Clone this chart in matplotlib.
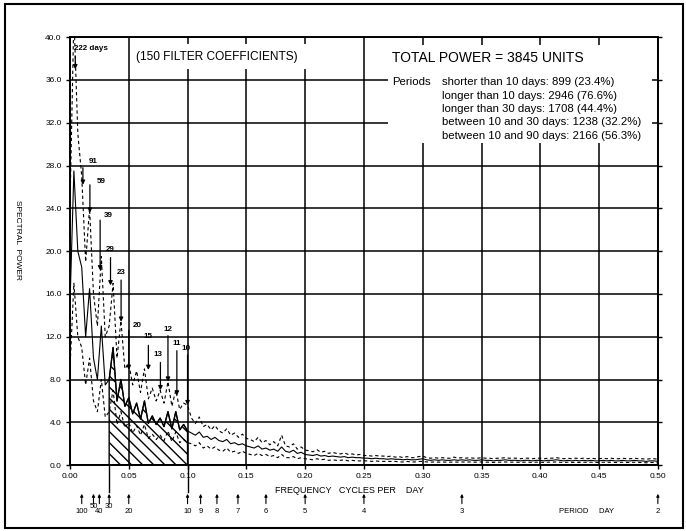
import matplotlib
matplotlib.use('Agg')
import matplotlib.pyplot as plt
from matplotlib.patches import Rectangle
import numpy as np

plt.rcParams['font.family'] = ['Liberation Sans', 'DejaVu Sans']
plt.rcParams['hatch.linewidth'] = 1.0

# spectral estimate at steps of 1/300 cycles per day (150 filter coefficients)
freq_step = 1 / 300.0
power = [15, 27.5, 20, 18.5, 12, 16.5, 10, 8, 13, 7.5, 8,
         11, 6, 8, 5.5, 6.3, 4.8, 5.8, 4.3, 6.0, 3.9, 4.6, 3.8, 4.4, 3.6, 5.0, 3.4, 5.0, 3.3, 3.8, 3.2,
         3.0, 2.8, 3.1, 2.6, 2.7, 2.4, 2.6, 2.3, 2.2, 2.4, 2.0, 2.1, 1.9, 2.0, 1.8,
         1.7, 1.6, 1.8, 1.5, 1.6, 1.4, 1.5, 1.3, 1.7, 1.3, 1.2, 1.4, 1.1, 1.2, 1.0,
         0.95, 0.9, 1.0, 0.85, 0.9, 0.8, 0.85, 0.8, 0.75, 0.8, 0.7, 0.75, 0.7, 0.7, 0.65,
         0.65, 0.6, 0.65, 0.6, 0.6, 0.55, 0.6, 0.55, 0.55, 0.5, 0.55, 0.5, 0.5, 0.55, 0.6,
         0.5, 0.45, 0.5, 0.45, 0.5, 0.45, 0.45, 0.5, 0.45, 0.5,
         0.45, 0.5, 0.45, 0.45, 0.5, 0.45, 0.45, 0.4, 0.45, 0.45,
         0.5, 0.45, 0.45, 0.45, 0.4, 0.45, 0.45, 0.4, 0.45, 0.45,
         0.4, 0.45, 0.45, 0.5, 0.45, 0.4, 0.45, 0.4, 0.45, 0.4,
         0.45, 0.4, 0.45, 0.4, 0.4, 0.45, 0.4, 0.45, 0.4, 0.4,
         0.45, 0.4, 0.4, 0.45, 0.4, 0.4, 0.35, 0.4, 0.4, 0.35]
upper = [24, 42, 31, 27, 19, 24, 16, 13, 19.5, 12, 13,
         17, 10, 13.5, 9, 9.5, 7.5, 8.8, 6.8, 9, 6.2, 7.2, 6.0, 7.0, 5.8, 7.8, 5.5, 7.0, 5.2, 5.8, 5.6,
         4.4, 3.9, 4.5, 3.6, 3.8, 3.3, 3.7, 3.2, 3.0, 3.4, 2.8, 3.0, 2.6, 2.9, 2.5,
         2.4, 2.2, 2.6, 2.1, 2.3, 1.9, 2.2, 1.8, 2.8, 1.8, 1.7, 2.0, 1.5, 1.7, 1.4,
         1.35, 1.25, 1.45, 1.2, 1.3, 1.1, 1.2, 1.1, 1.05, 1.15, 1.0, 1.05, 0.95, 1.0, 0.9,
         0.9, 0.85, 0.9, 0.85, 0.85, 0.8, 0.85, 0.75, 0.8, 0.7, 0.8, 0.7, 0.7, 0.8, 0.85,
         0.7, 0.65, 0.7, 0.65, 0.7, 0.65, 0.65, 0.75, 0.65, 0.7,
         0.65, 0.7, 0.65, 0.65, 0.7, 0.65, 0.65, 0.6, 0.65, 0.65,
         0.7, 0.65, 0.65, 0.65, 0.6, 0.65, 0.65, 0.6, 0.65, 0.65,
         0.6, 0.65, 0.65, 0.7, 0.65, 0.6, 0.65, 0.6, 0.65, 0.6,
         0.65, 0.6, 0.65, 0.6, 0.6, 0.65, 0.6, 0.65, 0.6, 0.6,
         0.65, 0.6, 0.6, 0.65, 0.6, 0.6, 0.55, 0.6, 0.6, 0.55]
lower = [9, 17, 12, 11, 7.5, 10, 6, 5, 8, 4.5, 5,
         7, 3.8, 5, 3.5, 4, 3.0, 3.7, 2.8, 3.8, 2.5, 2.9, 2.4, 2.8, 2.3, 3.2, 2.2, 3.1, 2.1, 2.4, 2.1,
         2.0, 1.8, 2.1, 1.6, 1.8, 1.5, 1.7, 1.4, 1.3, 1.6, 1.2, 1.3, 1.1, 1.3, 1.1,
         1.0, 0.9, 1.1, 0.9, 1.0, 0.8, 0.9, 0.7, 1.0, 0.7, 0.7, 0.8, 0.6, 0.7, 0.6,
         0.55, 0.5, 0.6, 0.5, 0.55, 0.45, 0.5, 0.45, 0.45, 0.5, 0.4, 0.45, 0.4, 0.4, 0.4,
         0.4, 0.35, 0.4, 0.35, 0.35, 0.35, 0.35, 0.35, 0.3, 0.3, 0.35, 0.3, 0.3, 0.35, 0.35,
         0.3, 0.28, 0.3, 0.28, 0.3, 0.28, 0.28, 0.3, 0.28, 0.3,
         0.28, 0.3, 0.28, 0.28, 0.3, 0.28, 0.28, 0.25, 0.28, 0.28,
         0.3, 0.28, 0.28, 0.28, 0.25, 0.28, 0.28, 0.25, 0.28, 0.28,
         0.25, 0.28, 0.28, 0.3, 0.28, 0.25, 0.28, 0.25, 0.28, 0.25,
         0.28, 0.25, 0.28, 0.25, 0.25, 0.28, 0.25, 0.28, 0.25, 0.25,
         0.28, 0.25, 0.25, 0.28, 0.25, 0.25, 0.22, 0.25, 0.25, 0.22]

# peaks marked with arrows (period in days, arrow start, arrow tip)
peak_periods = [222, 91, 59, 39, 29, 23, 20, 15, 13, 12, 11, 10]
peak_labels = ['222 days', '91', '59', '39', '29', '23', '20', '15', '13', '12', '11', '10']
arrow_start = [38.2, 27.8, 26.2, 22.9, 19.4, 17.3, 12.6, 11.2, 9.6, 12.1, 10.7, 10.3]
arrow_tip = [37.0, 26.2, 23.6, 18.2, 16.8, 13.4, 8.9, 8.9, 7.0, 7.8, 6.5, 5.6]

period_ticks = [100, 50, 40, 30, 20, 10, 9, 8, 7, 6, 5, 4, 3, 2]

power_lines = ['shorter than 10 days: 899 (23.4%)',
               'longer than 10 days: 2946 (76.6%)',
               'longer than 30 days: 1708 (44.4%)',
               'between 10 and 30 days: 1238 (32.2%)',
               'between 10 and 90 days: 2166 (56.3%)']

power = np.array(power)
upper = np.array(upper)
lower = np.array(lower)
freq = np.arange(len(power)) * freq_step

fig = plt.figure(figsize=(6.86, 5.31), dpi=100)
ax = fig.add_axes([0.102, 0.124, 0.857, 0.806])
ax.set_axisbelow(True)

ax.plot(freq, power, color='black', lw=0.8, zorder=3)
ax.plot(freq, upper, color='black', lw=0.8, dashes=(3, 2.5), zorder=3)
ax.plot(freq, lower, color='black', lw=0.8, dashes=(3, 2.5), zorder=3)

band = (freq >= 1 / 30.0 - 1e-9) & (freq <= 0.1 + 1e-9)
ax.fill_between(freq[band], 0, power[band], facecolor='none', edgecolor='black',
                hatch='\\\\\\', lw=1.0, zorder=2)

# arrows pointing at the peaks
label_offsets = [(-1, 3), (4, 2), (5, 0), (3, 1), (0, 3), (0, 3), (3, 1), (0, 4), (-2, 3),
                 (0, 2), (0, 3), (-1, 2)]
for p, lab, y0, y1, off in zip(peak_periods, peak_labels, arrow_start, arrow_tip, label_offsets):
    ax.annotate('', xy=(1.0 / p, y1), xytext=(1.0 / p, y0),
                arrowprops=dict(arrowstyle='-|>', lw=0.9, color='black', mutation_scale=6,
                                shrinkA=0, shrinkB=0), zorder=4)
    ax.annotate(lab, xy=(1.0 / p, y0), xytext=off, textcoords='offset points',
                fontsize=5.8, fontweight='bold', ha='left' if off[0] > 2 or lab.endswith('days') else 'center',
                va='bottom')

ax.set_xlim(0, 0.5)
ax.set_ylim(0, 40)
ax.set_xticks(np.arange(0, 0.51, 0.05))
ax.set_yticks(np.arange(0, 41, 4))
ax.set_xticklabels(['%.2f' % v for v in np.arange(0, 0.51, 0.05)])
ax.set_yticklabels(['%.1f' % v for v in np.arange(0, 41, 4)])
ax.tick_params(axis='both', labelsize=6, length=3, width=1.0, direction='out', pad=3)
ax.tick_params(axis='y', right=True)
ax.grid(True, color='black', lw=1.1)
for s in ax.spines.values():
    s.set_linewidth(1.4)

# white boxes holding the annotations
ax.add_patch(Rectangle((0.541, 0.752), 0.449, 0.229, transform=ax.transAxes,
                       facecolor='white', edgecolor='none', zorder=1))
ax.add_patch(Rectangle((0.105, 0.925), 0.31, 0.058, transform=ax.transAxes,
                       facecolor='white', edgecolor='none', zorder=1))
ax.text(0.25, 0.953, '(150 FILTER COEFFICIENTS)', transform=ax.transAxes,
        fontsize=8.6, ha='center', va='center', zorder=5)
ax.text(0.548, 0.951, 'TOTAL POWER = 3845 UNITS', transform=ax.transAxes,
        fontsize=10, ha='left', va='center', zorder=5)
ax.text(0.548, 0.895, 'Periods', transform=ax.transAxes, fontsize=8.2,
        ha='left', va='center', zorder=5)
rows_y = [0.895, 0.863, 0.832, 0.801, 0.769]
for yy, line in zip(rows_y, power_lines):
    ax.text(0.633, yy, line, transform=ax.transAxes, fontsize=8.2,
            ha='left', va='center', zorder=5)

# boundaries of the 10-30 day band carried below the axis
xt = ax.get_xaxis_transform()
for fb in [1 / 30.0, 0.1]:
    ax.plot([fb, fb], [0, -0.063], transform=xt, color='black', lw=1.0, clip_on=False)

# period scale
for p in period_ticks:
    ax.annotate('', xy=(1.0 / p, -0.067), xytext=(1.0 / p, -0.09), xycoords=xt,
                textcoords=xt, arrowprops=dict(arrowstyle='-|>', lw=0.8, color='black',
                                               mutation_scale=4, shrinkA=0, shrinkB=0),
                annotation_clip=False)
    yy = -0.097 if p in (50, 30) else -0.108
    ax.text(1.0 / p, yy, str(p), transform=xt, fontsize=5.5, ha='center', va='center')

fig.text(0.509, 0.077, 'FREQUENCY   CYCLES PER    DAY', fontsize=6.5, ha='center', va='center')
fig.text(0.855, 0.037, 'PERIOD     DAY', fontsize=5.5, ha='center', va='center')
fig.text(0.026, 0.548, 'SPECTRAL  POWER', fontsize=6, rotation=270, ha='center', va='center')

fig.add_artist(Rectangle((0.007, 0.006), 0.989, 0.986, transform=fig.transFigure,
                         fill=False, edgecolor='black', lw=1.5))

plt.savefig('out.png', dpi=100)
